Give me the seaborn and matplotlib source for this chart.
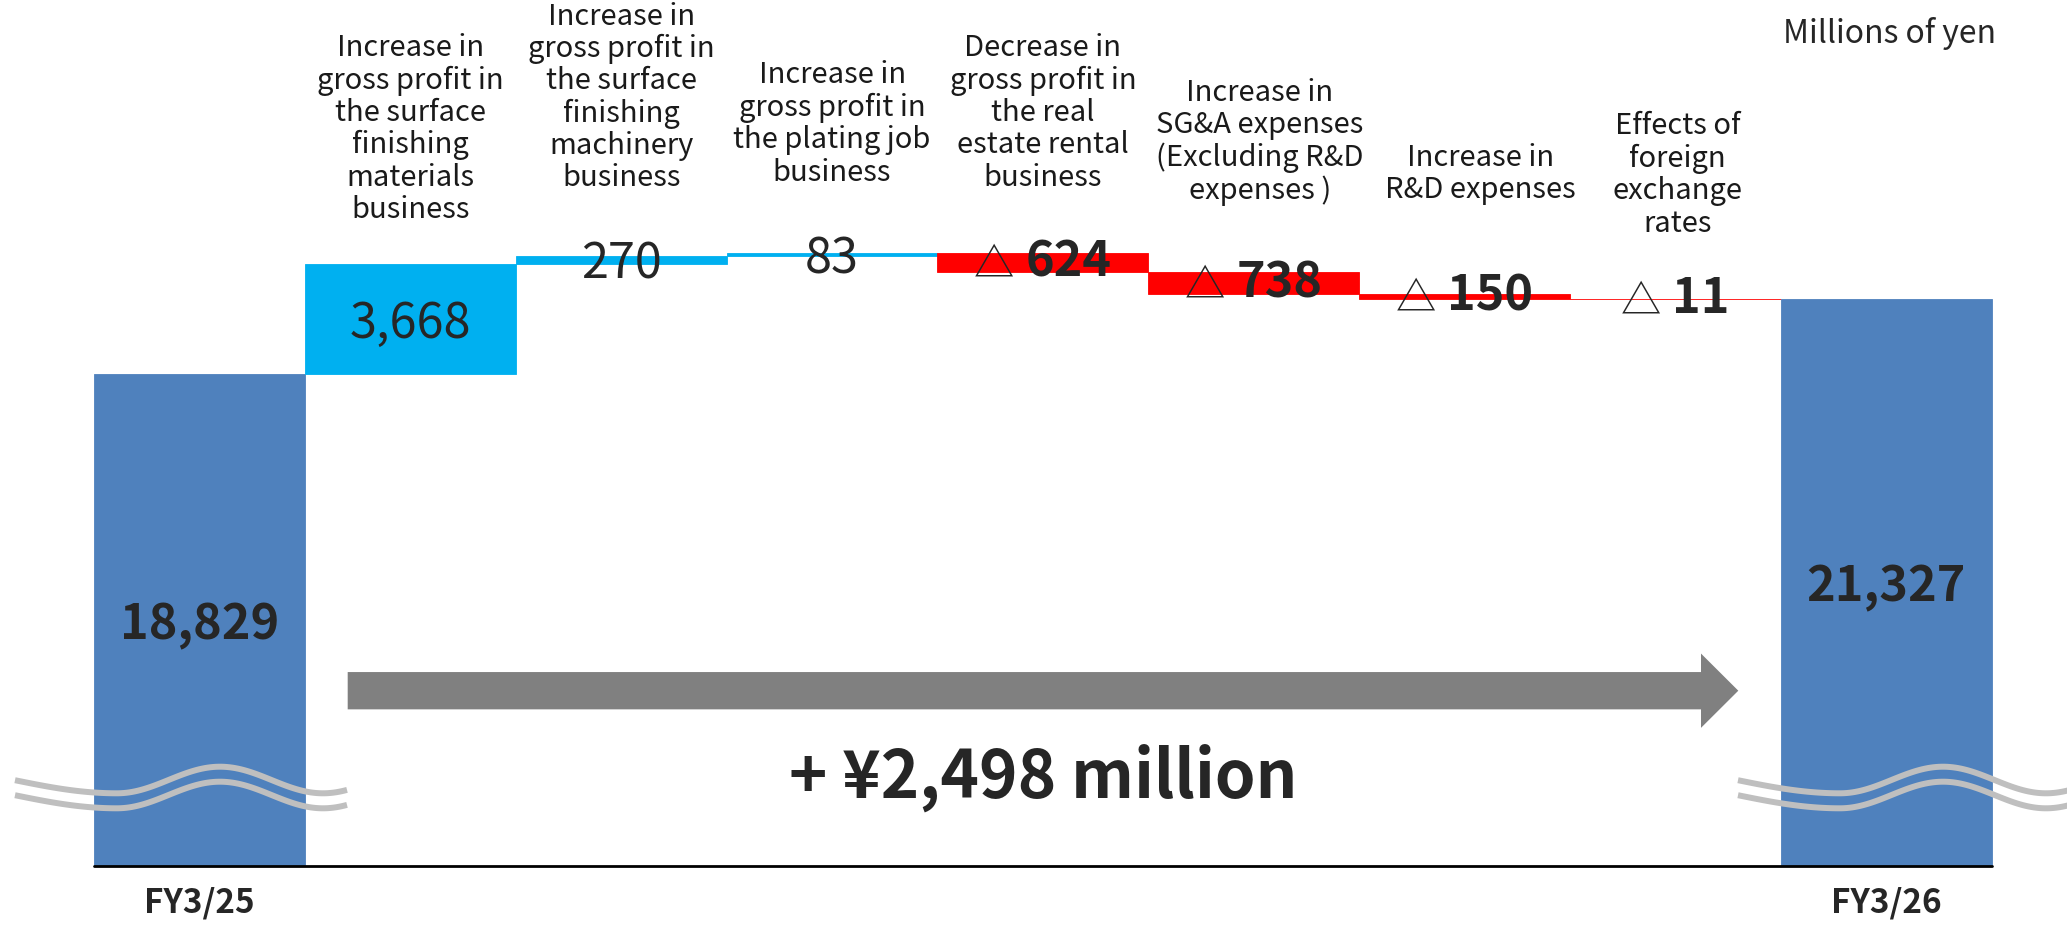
import numpy as np
import matplotlib.pyplot as plt
import matplotlib.transforms as mtransforms
import pandas as pd
import seaborn as sns
from matplotlib.offsetbox import TextArea, HPacker, AnnotationBbox
from matplotlib.patches import FancyArrow

# chart values, millions of yen
steps = ["FY3/25", "materials", "machinery", "plating", "real_estate", "sga", "rnd", "fx", "FY3/26"]
amounts = [18829, 3668, 270, 83, -624, -738, -150, -11, 21327]
step_kinds = ["total", "up", "up", "up", "down", "down", "down", "down", "total"]
step_labels = [
    "",
    "Increase in\ngross profit in\nthe surface\nfinishing\nmaterials\nbusiness",
    "Increase in\ngross profit in\nthe surface\nfinishing\nmachinery\nbusiness",
    "Increase in\ngross profit in\nthe plating job\nbusiness",
    "Decrease in\ngross profit in\nthe real\nestate rental\nbusiness",
    "Increase in\nSG&A expenses\n(Excluding R&D\nexpenses )",
    "Increase in\nR&D expenses",
    "Effects of\nforeign\nexchange\nrates",
    "",
]
tick_labels = ["FY3/25", "", "", "", "", "", "", "", "FY3/26"]
unit_text = "Millions of yen"

palette = {"total": "#4F81BD", "up": "#00B0F0", "down": "#FF0000"}

# layout (pixels of the 2067x925 output)
W, H = 2067, 925
Y_MIN, Y_MAX = 2521, 31244          # broken axis: bars start far above zero
X_MIN, X_MAX = -0.947, 8.858
label_y_px = [None, 129, 97.5, 124, 113, 141.7, 174, 175, None]
label_dx = [0, 0, 0, 0, 0, 0.03, 0.076, 0.01, 0]

# waterfall geometry
running = amounts[0]
bottoms, heights = [], []
for amt, kind in zip(amounts, step_kinds):
    if kind == "total":
        bottoms.append(0)
        heights.append(amt)
    else:
        bottoms.append(min(running, running + amt))
        heights.append(abs(amt))
        running += amt
df = pd.DataFrame({"step": steps, "height": heights, "bottom": bottoms,
                   "amount": amounts, "kind": step_kinds})

sns.set_style("white")
plt.rcParams["font.family"] = ["Noto Sans CJK JP", "DejaVu Sans"]

fig = plt.figure(figsize=(W / 100, H / 100), dpi=100)
ax = fig.add_axes([0, 59 / H, 1, 866 / H])

sns.barplot(data=df, x="step", y="height", order=steps, bottom=df["bottom"].to_numpy(),
            width=1.0, errorbar=None, color=palette["total"], linewidth=0.6, ax=ax)
for patch, kind in zip(ax.patches, df["kind"]):
    patch.set_facecolor(palette[kind])
    patch.set_edgecolor(palette[kind])

ax.set_xlim(X_MIN, X_MAX)
ax.set_ylim(Y_MIN, Y_MAX)
ax.set_xlabel("")
ax.set_ylabel("")
ax.set_yticks([])
ax.set_xticks(range(len(steps)))
ax.set_xticklabels(tick_labels, fontsize=24, fontweight="bold")
ax.tick_params(axis="x", length=0, pad=15)
sns.despine(ax=ax, left=True, bottom=True)

# baseline under the bars
ax.plot([-0.5, len(steps) - 0.5], [Y_MIN, Y_MIN], color="black", lw=2, clip_on=False, zorder=5)

def to_data(x_px, y_px):
    return ax.transData.inverted().transform((x_px, H - y_px))

# value labels
for i, row in df.iterrows():
    if row["kind"] == "total":
        yc = (Y_MIN + row["amount"]) / 2
    else:
        yc = row["bottom"] + row["height"] / 2
    if row["amount"] < 0:
        box = HPacker(children=[
            TextArea("△", textprops=dict(fontsize=29, fontweight="normal")),
            TextArea(f"{-row['amount']:,}", textprops=dict(fontsize=35, fontweight="bold")),
        ], align="baseline", pad=0, sep=8)
        ax.add_artist(AnnotationBbox(box, (i, yc), frameon=False, box_alignment=(0.5, 0.5),
                                     pad=0, zorder=6))
    else:
        ax.text(i, yc, f"{row['amount']:,}", ha="center", va="center_baseline", fontsize=35,
                fontweight="bold" if row["kind"] == "total" else "normal", zorder=6)

# category descriptions above the bars
blend = mtransforms.blended_transform_factory(ax.transData, fig.transFigure)
for i, (text, y_px) in enumerate(zip(step_labels, label_y_px)):
    if text:
        ax.text(i + label_dx[i], 1 - y_px / H, text, transform=blend, ha="center", va="center",
                fontsize=21, linespacing=1.1, color="#1a1a1a")

# wavy break marks
def wave(x_start):
    xs = np.linspace(x_start, x_start + 332, 120)
    t = xs - (x_start + 102)
    phase = np.where(t < 0, np.pi * t / 206, 2 * np.pi * t / 206)
    return xs, 780 + 13.3 * np.cos(phase)

for x_start in (15, 1738):
    xs, ys = wave(x_start)
    for shift in (0, 15):
        pts = np.array([to_data(x, y + shift) for x, y in zip(xs, ys)])
        ax.plot(pts[:, 0], pts[:, 1], color="#BFBFBF", lw=4.3, solid_capstyle="butt", zorder=4)

# net change arrow
x0, yc = to_data(347.7, 690.7)
x1, _ = to_data(1738.3, 690.7)
units_per_px = (Y_MAX - Y_MIN) / 866
ax.add_patch(FancyArrow(x0, yc, x1 - x0, 0, width=37.3 * units_per_px,
                        head_width=74.3 * units_per_px, head_length=37.3 / 210.8,
                        length_includes_head=True, color="#808080", lw=0, zorder=3))

net = amounts[-1] - amounts[0]
fig.text(1043 / W, 1 - 797.5 / H, f"+ ¥{net:,} million", ha="center", va="baseline",
         fontsize=47, fontweight="bold")
fig.text(1996 / W, 1 - 43.5 / H, unit_text, ha="right", va="baseline", fontsize=23)

fig.savefig("out.png", dpi=100)
